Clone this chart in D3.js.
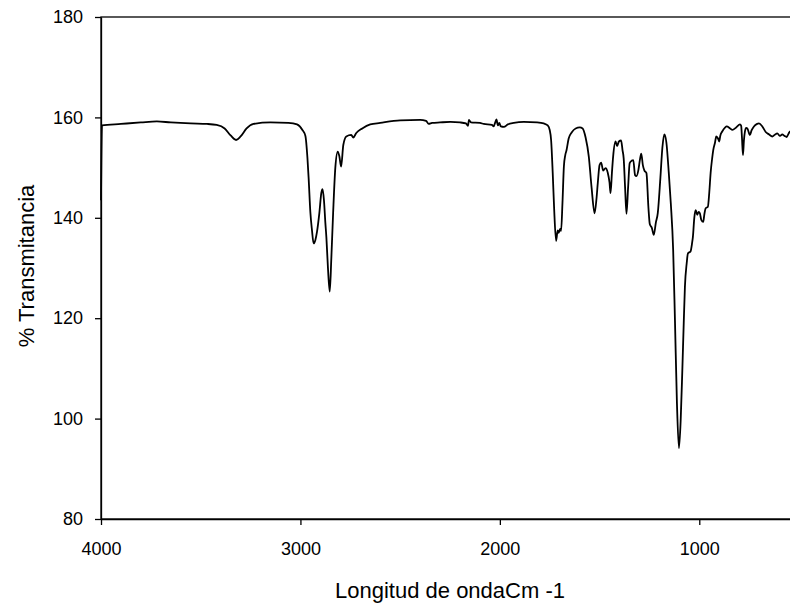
<!DOCTYPE html>
<html>
<head>
<meta charset="utf-8">
<script src="https://cdn.jsdelivr.net/npm/d3@7"></script>
<style>
  body { margin: 0; background: #ffffff; }
  svg { display: block; font-family: "Liberation Sans", Arial, sans-serif; }
</style>
</head>
<body>
<svg id="chart"></svg>
<script>
// wavenumber (cm-1) and % transmittance
const waveNumbers = [
  4000, 3995, 3900, 3800, 3720, 3650, 3550, 3468, 3420, 3380, 3350, 3323, 3300, 3270, 3235, 3150,
  3060, 3017, 2990, 2975, 2965, 2959, 2950, 2942, 2934, 2925, 2917, 2905, 2895, 2889, 2882, 2875,
  2870, 2862, 2853, 2845, 2836, 2825, 2813, 2805, 2796, 2785, 2770, 2745, 2735, 2720, 2690, 2650,
  2600, 2500, 2400, 2370, 2357, 2340, 2300, 2248, 2200, 2170, 2160, 2155, 2145, 2100, 2081, 2040,
  2031, 2024, 2017, 2010, 2003, 1995, 1980, 1960, 1930, 1880, 1813, 1780, 1760, 1750, 1743, 1735,
  1728, 1718, 1710, 1705, 1698, 1693, 1686, 1679, 1672, 1666, 1655, 1640, 1620, 1599, 1585, 1570,
  1554, 1540, 1525, 1515, 1509, 1500, 1492, 1482, 1470, 1459, 1450, 1445, 1438, 1432, 1420, 1412,
  1403, 1392, 1385, 1379, 1372, 1365, 1357, 1349, 1338, 1331, 1322, 1315, 1305, 1298, 1291, 1283,
  1275, 1265, 1255, 1248, 1238, 1228, 1218, 1208, 1195, 1185, 1175, 1165, 1153, 1143, 1131, 1122,
  1112, 1102, 1093, 1085, 1078, 1072, 1063, 1057, 1044, 1036, 1032, 1025, 1018, 1010, 1003, 997,
  990, 980, 975, 968, 957, 950, 943, 935, 930, 921, 915, 906, 900, 895, 885, 870,
  863, 845, 834, 815, 796, 790, 786, 781, 776, 771, 765, 759, 746, 738, 726, 710,
  701, 684, 667, 650, 634, 620, 609, 595, 584, 572, 562, 552, 545, 535, 520, 500
];
const transmittance = [
  143.5, 158.4, 158.7, 159.0, 159.2, 159.0, 158.8, 158.7, 158.5, 157.8, 156.4, 155.5, 156.2, 157.8, 158.7, 159.0,
  158.9, 158.6, 157.5, 156.3, 152.0, 148.0, 141.0, 137.5, 134.9, 135.6, 137.2, 141.0, 145.0, 145.7, 143.5, 139.0,
  136.2, 130.0, 125.3, 132.0, 141.0, 150.0, 153.2, 152.3, 150.2, 154.5, 156.2, 156.5, 156.0, 156.9, 157.8, 158.6,
  158.9, 159.4, 159.5, 159.3, 158.7, 158.9, 159.0, 159.1, 159.0, 158.8, 158.3, 159.5, 159.0, 158.9, 158.7, 158.5,
  158.2, 158.9, 159.6, 158.4, 158.9, 158.2, 158.1, 158.6, 158.9, 159.1, 159.0, 158.8, 158.4, 157.5, 155.5, 149.0,
  142.0, 135.4, 137.5, 137.0, 137.8, 137.4, 143.0, 150.2, 152.5, 153.4, 155.8, 157.0, 157.8, 158.0, 157.8, 156.0,
  152.2, 146.0, 140.9, 144.0, 146.9, 150.5, 151.0, 149.4, 149.9, 149.0, 147.0, 144.9, 149.0, 152.2, 155.2, 154.3,
  155.2, 155.4, 153.5, 151.8, 146.0, 140.8, 146.0, 150.9, 151.4, 151.5, 148.5, 148.3, 149.6, 151.5, 152.8, 150.5,
  149.4, 148.9, 142.0, 138.7, 138.0, 136.6, 139.0, 141.0, 148.0, 154.0, 156.6, 155.0, 149.0, 143.0, 133.6, 119.6,
  103.0, 94.1, 100.0, 109.7, 119.0, 126.3, 131.0, 132.9, 133.3, 135.0, 136.2, 140.0, 141.5, 140.6, 141.2, 140.9,
  139.6, 139.2, 140.6, 141.9, 142.2, 145.0, 149.0, 152.0, 153.5, 155.0, 156.2, 155.8, 155.2, 156.3, 157.2, 158.0,
  158.2, 157.8, 157.5, 158.0, 158.6, 158.3, 156.0, 152.5, 155.5, 157.2, 157.9, 157.8, 156.5, 157.4, 158.2, 158.7,
  158.8, 158.2, 157.1, 156.6, 156.2, 156.6, 156.8, 156.3, 156.6, 156.3, 156.1, 156.8, 157.2, 157.3, 157.0, 157.0
];
const xTicks = [4000, 3000, 2000, 1000];
const yTicks = [80, 100, 120, 140, 160, 180];

const spectrum = waveNumbers.map((w, i) => ({ w: w, t: transmittance[i] }));

const margin = { top: 17, right: 0, bottom: 86, left: 101 };
const totalWidth = 790, totalHeight = 605;
// plot area runs past the right edge of the picture (500 cm-1 sits just off-canvas)
const width = 698;
const height = totalHeight - margin.top - margin.bottom - 0;

const svg = d3.select('#chart')
  .attr('width', totalWidth)
  .attr('height', totalHeight)
  .append('g')
  .attr('transform', `translate(${margin.left},${margin.top})`);

const x = d3.scaleLinear()
  .domain([4000, 500])
  .range([0, width]);

const y = d3.scaleLinear()
  .domain([80, 180])
  .range([502, 0]);

// frame
svg.append('rect')
  .attr('x', 0)
  .attr('y', 0)
  .attr('width', width)
  .attr('height', 502)
  .attr('fill', 'none')
  .attr('stroke', '#000')
  .attr('stroke-width', 1.3);

const xAxis = svg.append('g')
  .attr('transform', `translate(0,502)`)
  .call(d3.axisBottom(x).tickValues(xTicks).tickFormat(d3.format('d'))
    .tickSize(6).tickSizeOuter(0).tickPadding(17));

const yAxis = svg.append('g')
  .call(d3.axisLeft(y).tickValues(yTicks).tickFormat(d3.format('d'))
    .tickSize(6).tickSizeOuter(0).tickPadding(12));

[xAxis, yAxis].forEach(g => {
  g.select('.domain').attr('stroke', '#000').attr('stroke-width', 1.3);
  g.selectAll('.tick line').attr('stroke', '#000').attr('stroke-width', 1.3);
  g.selectAll('.tick text')
    .attr('fill', '#000')
    .style('font-family', '"Liberation Sans", Arial, sans-serif')
    .style('font-size', '18px');
});

const line = d3.line()
  .x(d => x(d.w))
  .y(d => y(d.t))
  .curve(d3.curveMonotoneX);

svg.append('path')
  .datum(spectrum)
  .attr('fill', 'none')
  .attr('stroke', '#000')
  .attr('stroke-width', 1.8)
  .attr('stroke-linejoin', 'round')
  .attr('d', line);

// axis titles
svg.append('text')
  .attr('x', width / 2)
  .attr('y', 581)
  .attr('text-anchor', 'middle')
  .attr('fill', '#000')
  .style('font-size', '22px')
  .text('Longitud de ondaCm -1');

svg.append('text')
  .attr('transform', `translate(${34 - margin.left},${266 - margin.top}) rotate(-90)`)
  .attr('text-anchor', 'middle')
  .attr('fill', '#000')
  .style('font-size', '22px')
  .text('% Transmitancia');
</script>
</body>
</html>
